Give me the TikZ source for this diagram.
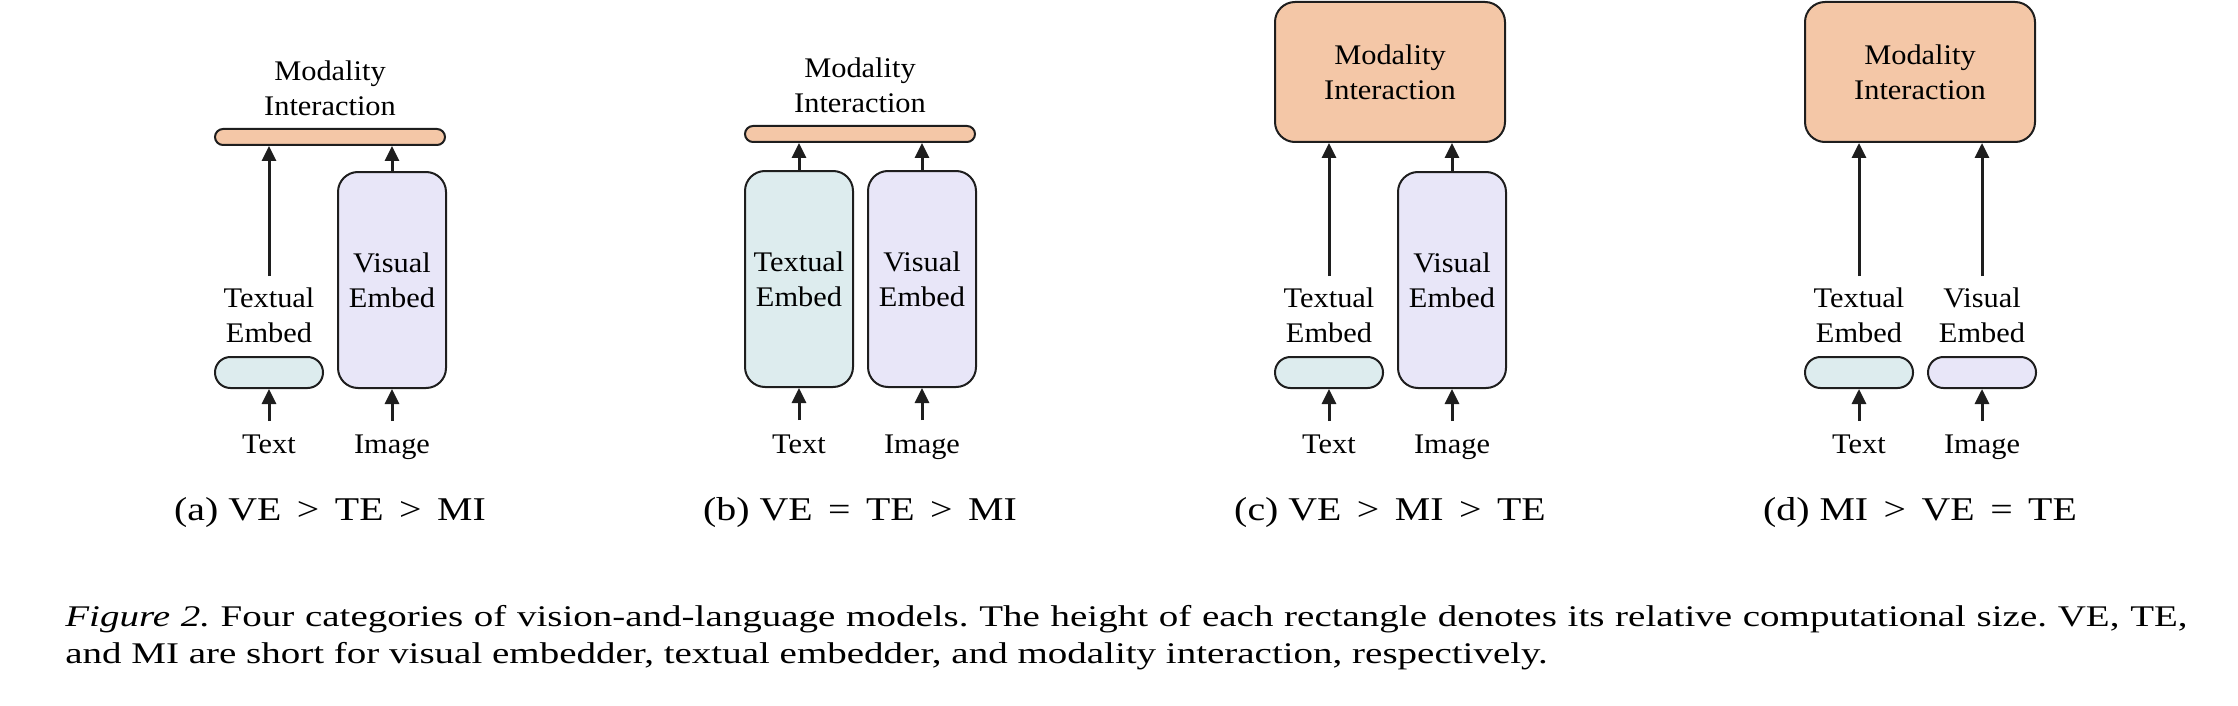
\documentclass[tikz,border=0pt]{standalone}
\usepackage{fontspec}
\setmainfont{Liberation Serif}[FakeStretch=1.07]
\newfontfamily\subcapfont{Liberation Serif}[FakeStretch=1.2]
\newfontfamily\capfont{Liberation Serif}[FakeStretch=1.3]
\usetikzlibrary{positioning,arrows.meta}
\definecolor{mifill}{HTML}{F4C7A7}
\definecolor{tefill}{HTML}{DDECEE}
\definecolor{vefill}{HTML}{E8E6F8}
\definecolor{edge}{HTML}{1E1E1E}

\begin{document}
\begin{tikzpicture}[x=0.5pt,y=-0.5pt,
	blk/.style={draw=edge,line width=1pt,inner sep=0pt,align=center,font=\fontsize{14.2pt}{17.5pt}\selectfont},
	bar/.style={blk,fill=mifill,minimum width=115pt,minimum height=8pt,rounded corners=4pt},
	mibox/.style={blk,fill=mifill,minimum width=115pt,minimum height=70pt,rounded corners=10pt},
	small/.style={blk,minimum width=54pt,minimum height=15.5pt,rounded corners=7.7pt},
	tall/.style={blk,minimum width=54pt,minimum height=108pt,rounded corners=10pt},
	lbl/.style={inner sep=0pt,align=center,font=\fontsize{14.2pt}{17.5pt}\selectfont},
	subcap/.style={inner sep=0pt,font=\subcapfont\fontsize{16.6pt}{20pt}\selectfont},
	arr/.style={-{Triangle[length=7.5pt,width=7pt]},line width=1.5pt,draw=edge}]
					\useasboundingbox (0,0) rectangle (2238,706);
					
					%(a)
					\begin{scope}[shift={(215,0)}]
					\node[bar] (miA) at (115,137) {};
					\node[lbl,above=6pt of miA] (milA) {Modality\\Interaction};
					\node[small,fill=tefill] (teA) at (54,372.5) {};
					\node[lbl,above=6.5pt of teA] (telA) {Textual\\Embed};
					\node[tall,fill=vefill] (veA) at (177,280) {Visual\\Embed};
					\node[lbl,below=23pt of teA] (txtA) {Text};
					\node[lbl,anchor=north] (imgA) at (txtA.north -| veA) {Image};
					\draw[arr] ([yshift=7pt]txtA.north) -- (teA);
					\draw[arr] ([yshift=7pt]imgA.north) -- (veA);
					\draw[arr] ([yshift=5.5pt]telA.north) -- (telA.north |- miA.south);
					\draw[arr] (veA) -- (veA |- miA.south);
					\node[subcap,anchor=base] (capA) at (115,520) {(a) VE \,> \,TE \,> \,MI};
					\end{scope}
					
					%(b)
					\begin{scope}[shift={(745,0)}]
					\node[bar] (miB) at (115,134) {};
					\node[lbl,above=6pt of miB] (milB) {Modality\\Interaction};
					\node[tall,fill=tefill] (teB) at (54,279) {Textual\\Embed};
					\node[tall,fill=vefill] (veB) at (177,279) {Visual\\Embed};
					\node[lbl,below=23pt of teB] (txtB) {Text};
					\node[lbl,anchor=north] (imgB) at (txtB.north -| veB) {Image};
					\draw[arr] ([yshift=7pt]txtB.north) -- (teB);
					\draw[arr] ([yshift=7pt]imgB.north) -- (veB);
					\draw[arr] (teB) -- (teB |- miB.south);
					\draw[arr] (veB) -- (veB |- miB.south);
					\node[subcap,anchor=base] (capB) at (115,520) {(b) VE \,= \,TE \,> \,MI};
					\end{scope}
					
					%(c)
					\begin{scope}[shift={(1275,0)}]
					\node[mibox] (miC) at (115,72) {Modality\\Interaction};
					\node[small,fill=tefill] (teC) at (54,372.5) {};
					\node[lbl,above=6.5pt of teC] (telC) {Textual\\Embed};
					\node[tall,fill=vefill] (veC) at (177,280) {Visual\\Embed};
					\node[lbl,below=23pt of teC] (txtC) {Text};
					\node[lbl,anchor=north] (imgC) at (txtC.north -| veC) {Image};
					\draw[arr] ([yshift=7pt]txtC.north) -- (teC);
					\draw[arr] ([yshift=7pt]imgC.north) -- (veC);
					\draw[arr] ([yshift=5.5pt]telC.north) -- (telC.north |- miC.south);
					\draw[arr] (veC) -- (veC |- miC.south);
					\node[subcap,anchor=base] (capC) at (115,520) {(c) VE \,> \,MI \,> \,TE};
					\end{scope}
					
					%(d)
					\begin{scope}[shift={(1805,0)}]
					\node[mibox] (miD) at (115,72) {Modality\\Interaction};
					\node[small,fill=tefill] (teD) at (54,372.5) {};
					\node[lbl,above=6.5pt of teD] (telD) {Textual\\Embed};
					\node[small,fill=vefill] (veD) at (177,372.5) {};
					\node[lbl,above=6.5pt of veD] (velD) {Visual\\Embed};
					\node[lbl,below=23pt of teD] (txtD) {Text};
					\node[lbl,anchor=north] (imgD) at (txtD.north -| veD) {Image};
					\draw[arr] ([yshift=7pt]txtD.north) -- (teD);
					\draw[arr] ([yshift=7pt]imgD.north) -- (veD);
					\draw[arr] ([yshift=5.5pt]telD.north) -- (telD.north |- miD.south);
					\draw[arr] ([yshift=5.5pt]velD.north) -- (velD.north |- miD.south);
					\node[subcap,anchor=base] (capD) at (115,520) {(d) MI \,> \,VE \,= \,TE};
					\end{scope}
					
					%CAPTION
					\node[anchor=north west,inner sep=0pt,text width=1061pt,align=justify,font=\capfont\fontsize{15pt}{18.5pt}\selectfont\frenchspacing] (figcap) at (65,604.5)
						{\textit{Figure 2.} Four categories of vision-and-language models. The height of each rectangle denotes its relative computational size. VE, TE,\linebreak and MI are short for visual embedder, textual embedder, and modality interaction, respectively.};
					
				  \end{tikzpicture}
\end{document}
